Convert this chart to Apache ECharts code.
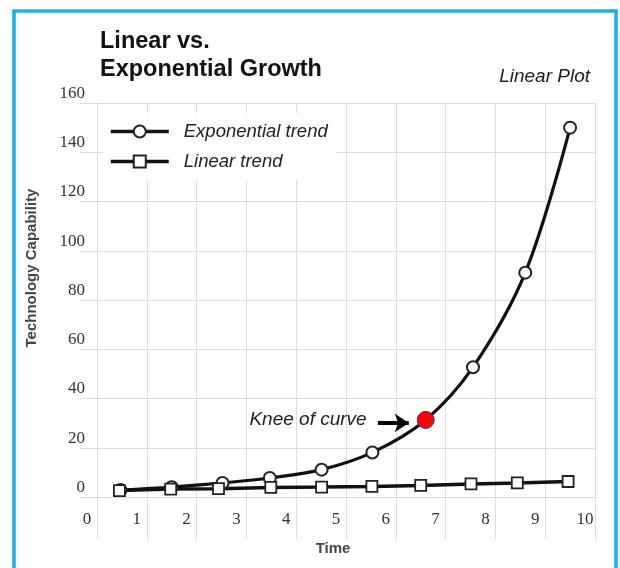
<!DOCTYPE html>
<html>
<head>
<meta charset="utf-8">
<script src="https://cdn.jsdelivr.net/npm/echarts@6/dist/echarts.min.js"></script>
<style>
  html, body { margin: 0; padding: 0; background: #fff; }
  #main { width: 620px; height: 568px; }
</style>
</head>
<body>
<div id="main"></div>
<script>
// values
var expX = [0.47, 1.5, 2.52, 3.47, 4.51, 5.53, 6.6, 7.55, 8.6, 9.5];
var expY = [2.8, 4.0, 5.7, 7.7, 11.1, 18.1, 31.3, 52.7, 91.1, 150];
var linX = [0.45, 1.48, 2.44, 3.49, 4.51, 5.52, 6.5, 7.51, 8.44, 9.46];
var linY = [2.6, 3.2, 3.4, 3.9, 4.05, 4.3, 4.7, 5.3, 5.7, 6.3];
var kneeIndex = 6;
var kneeArrow = [[5.64, 30.1], [6.26, 30.1]];
var xTicks = [0, 10, 1];
var yTicks = [0, 160, 20];

var gridColor = '#dcdcdc';
var ink = '#111';

function pairs(xs, ys) {
    var out = [];
    for (var i = 0; i < xs.length; i++) {
        out.push([xs[i], ys[i]]);
    }
    return out;
}

var expData = pairs(expX, expY);
expData[kneeIndex] = {
    value: expData[kneeIndex],
    symbolSize: 17,
    itemStyle: { color: '#f00', borderColor: '#5b2a7a', borderWidth: 1 },
    label: {
        show: true, position: 'left', distance: 50,
        formatter: 'Knee of curve',
        fontFamily: 'Liberation Sans', fontStyle: 'italic', fontSize: 19, color: '#222'
    }
};

var chart = echarts.init(document.getElementById('main'));
var option = {
    backgroundColor: '#fff',
    animation: false,
    title: [{
        text: 'Linear vs.\nExponential Growth',
        left: 95, top: 23,
        textStyle: { fontFamily: 'Liberation Sans', fontWeight: 'bold', fontSize: 23.5, lineHeight: 28, color: ink }
    }, {
        text: 'Linear Plot',
        right: 25, top: 62,
        textStyle: { fontFamily: 'Liberation Sans', fontStyle: 'italic', fontWeight: 'normal', fontSize: 19, color: '#222' }
    }],
    graphic: [{
        type: 'rect', z: 100, silent: true,
        shape: { x: 14, y: 11, width: 602, height: 580 },
        style: { fill: 'none', stroke: '#1ab0e8', lineWidth: 3.5 }
    }],
    legend: {
        orient: 'vertical',
        left: 103, top: 113,
        backgroundColor: '#fff',
        padding: [9, 9, 9, 6],
        itemWidth: 58, itemHeight: 15, itemGap: 11,
        lineStyle: { width: 3.5, color: ink },
        textStyle: { fontFamily: 'Liberation Sans', fontStyle: 'italic', fontSize: 18.5, color: '#222', padding: [0, 0, 0, 10] },
        data: ['Exponential trend', 'Linear trend']
    },
    grid: { left: 97, right: 25, top: 103, bottom: 71 },
    xAxis: {
        type: 'value', min: xTicks[0], max: xTicks[1], interval: xTicks[2],
        name: 'Time', nameLocation: 'middle', nameGap: 44,
        nameTextStyle: { fontFamily: 'Liberation Sans', fontWeight: 'bold', fontSize: 15, color: '#444', padding: [0, 26, 0, 0] },
        axisLine: { show: true, lineStyle: { color: gridColor } },
        axisTick: { show: true, length: 42, lineStyle: { color: gridColor } },
        axisLabel: { margin: 14, fontFamily: 'Liberation Serif', fontSize: 17, color: '#333', padding: [0, 20, 0, 0] },
        splitLine: { show: true, lineStyle: { color: gridColor } }
    },
    yAxis: {
        type: 'value', min: yTicks[0], max: yTicks[1], interval: yTicks[2],
        name: 'Technology Capability', nameLocation: 'middle', nameGap: 58,
        nameTextStyle: { fontFamily: 'Liberation Sans', fontWeight: 'bold', fontSize: 15, color: '#444', padding: [0, 0, 0, 64] },
        axisLine: { show: true, lineStyle: { color: gridColor } },
        axisTick: { show: true, length: 17, lineStyle: { color: gridColor } },
        axisLabel: { margin: 12, fontFamily: 'Liberation Serif', fontSize: 17, color: '#333', verticalAlign: 'bottom', padding: [0, 0, 1, 0] },
        splitLine: { show: true, lineStyle: { color: gridColor } }
    },
    series: [{
        name: 'Exponential trend',
        type: 'line',
        smooth: 0.35,
        data: expData,
        symbol: 'circle', symbolSize: 12,
        lineStyle: { color: ink, width: 3.2 },
        itemStyle: { color: '#fff', borderColor: '#222', borderWidth: 2 },
        markLine: {
            silent: true,
            symbol: ['none', 'arrow'], symbolSize: 14,
            label: { show: false },
            lineStyle: { color: '#000', width: 4, type: 'solid' },
            data: [[{ coord: kneeArrow[0] }, { coord: kneeArrow[1] }]]
        }
    }, {
        name: 'Linear trend',
        type: 'line',
        data: pairs(linX, linY),
        symbol: 'rect', symbolSize: 11,
        lineStyle: { color: ink, width: 3.5 },
        itemStyle: { color: '#fff', borderColor: '#222', borderWidth: 1.8 }
    }]
};
chart.setOption(option);
</script>
</body>
</html>
